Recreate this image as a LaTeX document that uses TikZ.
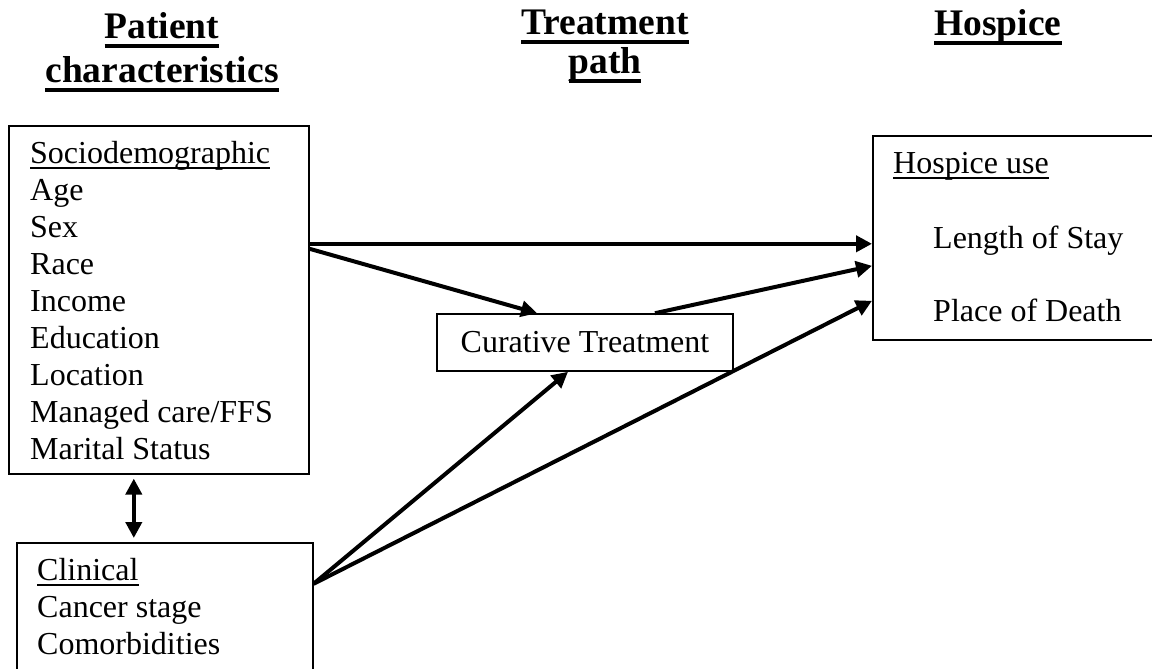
\documentclass[tikz,border=0pt]{standalone}
\usepackage{fontspec}
\setmainfont{Liberation Serif}
\usetikzlibrary{arrows.meta,positioning}
\newcommand{\ulword}[1]{\setbox0=\hbox{#1}\rlap{\rule[-5.5pt]{\wd0}{1.8pt}}\box0}
\newcommand{\ulhead}[1]{\setbox0=\hbox{#1}\rlap{\rule[-9pt]{\wd0}{3.6pt}}\box0}

\begin{document}
\begin{tikzpicture}[x=1pt,y=-1pt,
    >={Triangle[length=16pt,width=16pt]},
    box/.style={draw,line width=1.6pt,inner sep=0pt},
    item/.style={font=\fontsize{32}{37}\selectfont,inner sep=0pt,anchor=base west},
    head/.style={font=\fontsize{37.5}{43}\selectfont\bfseries,inner sep=0pt,anchor=base},
    arr/.style={line width=4pt,->}]
      \clip (0,0) rectangle (1152,669);
      % column headings
      \node[head] (hp1) at (162,39) {\ulhead{Patient}};
      \node[head] (hp2) at (162,83) {\ulhead{characteristics}};
      \node[head] (ht1) at (605,35) {\ulhead{Treatment}};
      \node[head] (ht2) at (605,74) {\ulhead{path}};
      \node[head] (hh) at (998,36) {\ulhead{Hospice}};
      % boxes
      \node[box,anchor=north west,minimum width=300pt,minimum height=348pt] (socio) at (8,125) {};
      \node[box,anchor=north west,minimum width=296pt,minimum height=200pt] (clinical) at (16,542) {};
      \node[box,anchor=north west,minimum width=300pt,minimum height=204pt] (hospice) at (872,135) {};
      \node[box,font=\fontsize{32}{37}\selectfont,minimum width=296pt,minimum height=57pt] (curative) at (585,342.5) {Curative Treatment};
      % box texts
      \node[item] (s0) at (30,163) {\ulword{Sociodemographic}};
      \foreach \t [count=\i] in {Age,Sex,Race,Income,Education,Location,Managed care/FFS,Marital Status}
        \node[item] (s\i) at (30,{163+37*\i}) {\t};
      \node[item] (c0) at (37,580) {\ulword{Clinical}};
      \foreach \t [count=\i] in {Cancer stage,Comorbidities}
        \node[item] (c\i) at (37,{580+37*\i}) {\t};
      \node[item] (h0) at (893,173) {\ulword{Hospice use}};
      \node[item] (h1) at (933,248) {Length of Stay};
      \node[item] (h2) at (933,321) {Place of Death};
      % paths
      \draw[arr] ([yshift=56pt]socio.east) -- ([yshift=-6pt]hospice.west);
      \draw[arr] ([yshift=51pt]socio.east) -- ([xshift=-48pt]curative.north);
      \draw[arr] ([xshift=70pt]curative.north) -- ([yshift=-28pt]hospice.west);
      \draw[arr] ([yshift=59pt]clinical.east) -- ([xshift=-17pt]curative.south);
      \draw[arr] ([yshift=59pt]clinical.east) -- ([yshift=-63pt]hospice.west);
      \coordinate (dtop) at ([xshift=-25pt,yshift=-4pt]socio.south);
      \coordinate (dbot) at ([xshift=-31pt,yshift=4pt]clinical.north);
      \draw[arr,<->] (dtop) -- (dbot);
\end{tikzpicture}
\end{document}
